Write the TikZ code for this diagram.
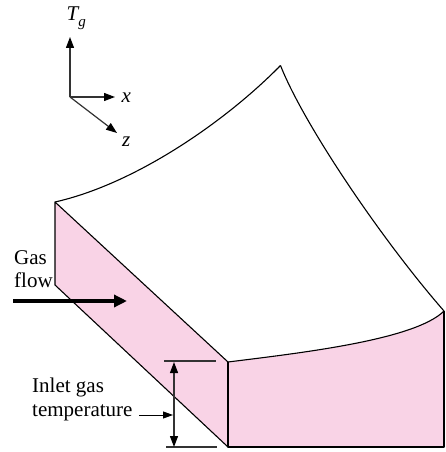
\documentclass[tikz,border=0pt]{standalone}
\usepackage{fontspec}
\setmainfont{Liberation Serif}
\usetikzlibrary{arrows.meta}
\definecolor{facepink}{HTML}{F9D3E6}
\definecolor{axisgray}{HTML}{333333}
\tikzset{
  edge/.style={draw=black,line width=1.1pt,line join=round},
  axis/.style={draw=axisgray,line width=1.2pt,-{Triangle[length=11pt,width=8pt,color=black]}},
  dim/.style={draw=axisgray,line width=1.2pt},
  lab/.style={inner sep=0pt,font=\fontsize{21}{23.5}\selectfont},
  mathlab/.style={inner sep=0pt,anchor=base west,font=\fontsize{21}{24}\selectfont\itshape}
}
\begin{document}
\begin{tikzpicture}[x=1pt,y=-1pt]
\useasboundingbox (0,0) rectangle (446,452);
\coordinate (A) at (55,202);
\coordinate (B) at (55,285);
\coordinate (C) at (228,447);
\coordinate (D) at (228,362);
\coordinate (E) at (444,447);
\coordinate (F) at (444,311);
\coordinate (G) at (280.5,65.5);
% faces
\fill[facepink] (A) -- (B) -- (C) -- (D) -- cycle;
\fill[facepink] (D) .. controls (300,353) and (415,340) .. (F) -- (E) -- (C) -- cycle;
% outline
\draw[edge] (A) -- (B) -- (C) -- (D) -- cycle;
\draw[edge] (D) -- (C) -- (E) -- (F);
\draw[edge] (D) .. controls (300,353) and (415,340) .. (F);
\draw[edge] (A) .. controls (135,184) and (225,122) .. (G);
\draw[edge] (G) .. controls (304,125) and (382,240) .. (F);
% axes
\coordinate (O) at (70,97);
\node[mathlab] (Tlab) at (66.5,21) {T\raisebox{-6pt}{\fontsize{15}{16}\selectfont g}};
\node[mathlab] (xlab) at (121.5,102) {x};
\node[mathlab] (zlab) at (122,146) {z};
\coordinate (Ttip) at (70,37);
\coordinate (xtip) at (115,97);
\coordinate (ztip) at (117,133);
\draw[axis] (O) -- (Ttip);
\draw[axis] (O) -- (xtip);
\draw[axis] (O) -- (ztip);
% gas flow
\node[lab,align=left,anchor=north west] (gas) at (14,250) {Gas\\flow};
\coordinate (f0) at (13,301);
\coordinate (f1) at (127,301);
\draw[line width=4.5pt,-{Triangle[length=13pt,width=12pt]}] (f0) -- (f1);
% inlet
\node[lab,align=left,anchor=north west] (inlet) at (32,378) {Inlet gas\\temperature};
\coordinate (t0) at (164,361);
\coordinate (t1) at (216,361);
\coordinate (b0) at (166,447);
\coordinate (b1) at (217,447);
\coordinate (dt) at (174,362);
\coordinate (db) at (174,447);
\coordinate (p0) at (139,415);
\coordinate (p1) at (173,415);
\draw[dim] (t0) -- (t1);
\draw[dim] (b0) -- (b1);
\draw[dim,{Triangle[length=11pt,width=8pt,color=black]}-{Triangle[length=11pt,width=8pt,color=black]}] (dt) -- (db);
\draw[line width=.9pt,-{Triangle[length=10pt,width=7pt]}] (p0) -- (p1);
\end{tikzpicture}
\end{document}
